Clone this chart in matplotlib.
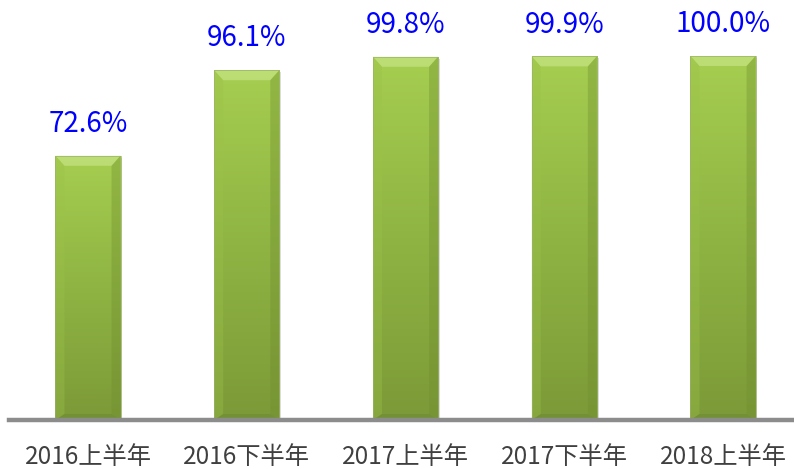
import matplotlib
matplotlib.use("Agg")
import matplotlib.pyplot as plt
import numpy as np
from matplotlib.patches import Polygon, Rectangle
from matplotlib.colors import LinearSegmentedColormap

plt.rcParams['font.family'] = ['Noto Sans CJK TC', 'DejaVu Sans']

categories = ["2016上半年", "2016下半年", "2017上半年", "2017下半年", "2018上半年"]
values = [72.6, 96.1, 99.8, 99.9, 100.0]
labels = ["72.6%", "96.1%", "99.8%", "99.9%", "100.0%"]

fig = plt.figure(figsize=(7.94, 4.69), dpi=100)
ax = fig.add_axes([9/794, 1-420/469, 1-9/794, 420/469])
ax.set_xlim(-0.4976, 4.447)
ax.set_ylim(0, 115.4)

cmap = LinearSegmentedColormap.from_list("g", ["#7c9a38", "#8fb443", "#a6ce50"])
grad = np.linspace(0, 1, 256).reshape(-1, 1)
w = 0.41
bx = 9 / 158.75
by = 10 * 115.4 / 420

for i, v in enumerate(values):
    x0, x1 = i - w/2, i + w/2
    ax.add_patch(Rectangle((x1, 0), 0.012, v - 0.5, facecolor="#dcdcdc", edgecolor="none", zorder=1))
    im = ax.imshow(grad, extent=[x0, x1, 0, v], origin="lower", cmap=cmap, aspect="auto", zorder=2, interpolation="bicubic")
    rect = Rectangle((x0, 0), w, v, transform=ax.transData)
    im.set_clip_path(rect)
    ax.add_patch(Polygon([[x0, v], [x1, v], [x1 - bx, v - by], [x0 + bx, v - by]],
                         closed=True, facecolor="#c6e384", edgecolor="none", alpha=0.7, zorder=3))
    ax.add_patch(Polygon([[x0, v], [x0 + bx, v - by], [x0 + bx, by * 0.6], [x0, 0]],
                         closed=True, facecolor="#9cc24a", edgecolor="none", alpha=0.35, zorder=3))
    ax.add_patch(Polygon([[x1, v], [x1 - bx, v - by], [x1 - bx, by * 0.6], [x1, 0]],
                         closed=True, facecolor="#6f8c2e", edgecolor="none", alpha=0.35, zorder=3))
    ax.add_patch(Polygon([[x0, 0], [x0 + bx, by * 0.6], [x1 - bx, by * 0.6], [x1, 0]],
                         closed=True, facecolor="#6a8630", edgecolor="none", alpha=0.45, zorder=3))
    ax.add_patch(Rectangle((x0, 0), w, v, facecolor="none", edgecolor="#9ab26a", linewidth=0.5, zorder=4))
    ax.text(i, v + 21 * 115.4 / 420 * 0.8, labels[i], ha="center", va="bottom",
            color="#0000ff", fontsize=20, fontweight="medium", zorder=5)

ax.set_xticks(range(len(categories)))
ax.set_xticklabels(categories, fontsize=17.5, color="#404040")
ax.tick_params(axis="x", length=0, pad=17)
ax.set_yticks([])
for s in ["top", "right", "left"]:
    ax.spines[s].set_visible(False)
ax.spines["bottom"].set_color("#8c8c8c")
ax.spines["bottom"].set_linewidth(3.2)
ax.spines["bottom"].set_zorder(6)
ax.patch.set_alpha(0)

fig.savefig("out.png", dpi=100)
